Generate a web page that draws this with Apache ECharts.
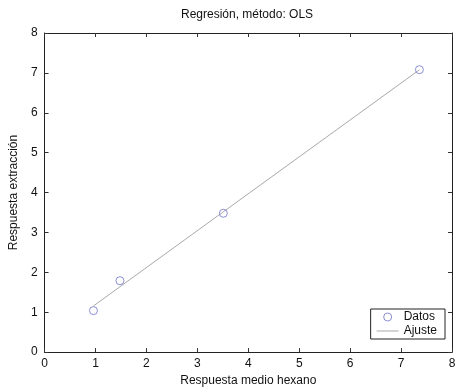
<!DOCTYPE html>
<html>
<head>
<meta charset="utf-8">
<script src="https://cdn.jsdelivr.net/npm/echarts@6/dist/echarts.min.js"></script>
<style>
  html, body { margin: 0; padding: 0; background: #fff; }
  #chart { width: 459px; height: 392px; }
</style>
</head>
<body>
<div id="chart"></div>
<script>
// Observed responses: hexane medium (x) vs. extraction (y)
const respuestaHexano = [0.96, 1.48, 3.51, 7.36];
const respuestaExtraccion = [1.04, 1.79, 3.48, 7.08];
const xTicks = [0, 1, 2, 3, 4, 5, 6, 7, 8];
const yTicks = [0, 1, 2, 3, 4, 5, 6, 7, 8];

// Ordinary least squares fit of extraction on hexane
function olsFit(xs, ys) {
  const n = xs.length;
  const mx = xs.reduce((a, b) => a + b, 0) / n;
  const my = ys.reduce((a, b) => a + b, 0) / n;
  let sxy = 0, sxx = 0;
  for (let i = 0; i < n; i++) {
    sxy += (xs[i] - mx) * (ys[i] - my);
    sxx += (xs[i] - mx) * (xs[i] - mx);
  }
  const b = sxy / sxx;
  return { slope: b, intercept: my - b * mx };
}
const fit = olsFit(respuestaHexano, respuestaExtraccion);
const xMin = Math.min(...respuestaHexano), xMax = Math.max(...respuestaHexano);
const ajuste = [
  [xMin, fit.intercept + fit.slope * xMin],
  [xMax, fit.intercept + fit.slope * xMax]
];
const datos = respuestaHexano.map((x, i) => [x, respuestaExtraccion[i]]);

const font = 'Liberation Sans, Arial, sans-serif';
const axisLine = { show: true, onZero: false, lineStyle: { color: '#222', width: 1 } };
const tick = { show: true, inside: true, length: 4, lineStyle: { color: '#333' } };
const markerColor = '#6f74c8';
const ringStyle = { color: 'rgba(255,255,255,0)', borderColor: markerColor, borderWidth: 1 };

const chart = echarts.init(document.getElementById('chart'), null, { renderer: 'canvas' });
chart.setOption({
  animation: false,
  backgroundColor: '#fff',
  title: {
    text: 'Regresión, método: OLS',
    left: 176, top: 4,
    textStyle: { fontFamily: font, fontSize: 12, fontWeight: 'normal', color: '#111' }
  },
  grid: { left: 42, right: 7, top: 33, bottom: 37 },
  legend: {
    orient: 'vertical',
    right: 14, bottom: 53,
    backgroundColor: '#fff',
    borderColor: '#222', borderWidth: 1,
    padding: [2, 8, 2, 6],
    itemGap: 2,
    itemWidth: 22, itemHeight: 8,
    textStyle: { fontFamily: font, fontSize: 12, color: '#111' },
    data: [
      { name: 'Datos', icon: 'circle', itemStyle: ringStyle },
      { name: 'Ajuste', icon: 'path://M0,0 L22,0 L22,1 L0,1 Z', itemStyle: { color: '#a9a9a9' } }
    ]
  },
  xAxis: [{
    type: 'value', min: 0, max: 8, interval: 1,
    name: 'Respuesta medio hexano', nameLocation: 'middle', nameGap: 22,
    nameTextStyle: { fontFamily: font, fontSize: 12, color: '#111' },
    axisLine, axisTick: tick,
    axisLabel: { fontFamily: font, fontSize: 12, color: '#111', margin: 6,
      formatter: v => xTicks.includes(v) ? String(v) : '' },
    splitLine: { show: false }
  }, {
    type: 'value', position: 'top', min: 0, max: 8, interval: 1,
    axisLine, axisTick: tick, axisLabel: { show: false }, splitLine: { show: false }
  }],
  yAxis: [{
    type: 'value', min: 0, max: 8, interval: 1,
    name: 'Respuesta extracción', nameLocation: 'middle', nameGap: 23,
    nameTextStyle: { fontFamily: font, fontSize: 12, color: '#111' },
    axisLine, axisTick: tick,
    axisLabel: { fontFamily: font, fontSize: 12, color: '#111', margin: 7,
      formatter: v => yTicks.includes(v) ? String(v) : '' },
    splitLine: { show: false }
  }, {
    type: 'value', position: 'right', min: 0, max: 8, interval: 1,
    axisLine, axisTick: tick, axisLabel: { show: false }, splitLine: { show: false }
  }],
  series: [{
    name: 'Ajuste',
    type: 'line',
    data: ajuste,
    symbol: 'none',
    lineStyle: { color: '#a9a9a9', width: 1 },
    itemStyle: { color: '#a9a9a9' },
    z: 2
  }, {
    name: 'Datos',
    type: 'scatter',
    data: datos,
    symbol: 'circle',
    symbolSize: 8,
    itemStyle: ringStyle,
    z: 3
  }]
});
</script>
</body>
</html>
